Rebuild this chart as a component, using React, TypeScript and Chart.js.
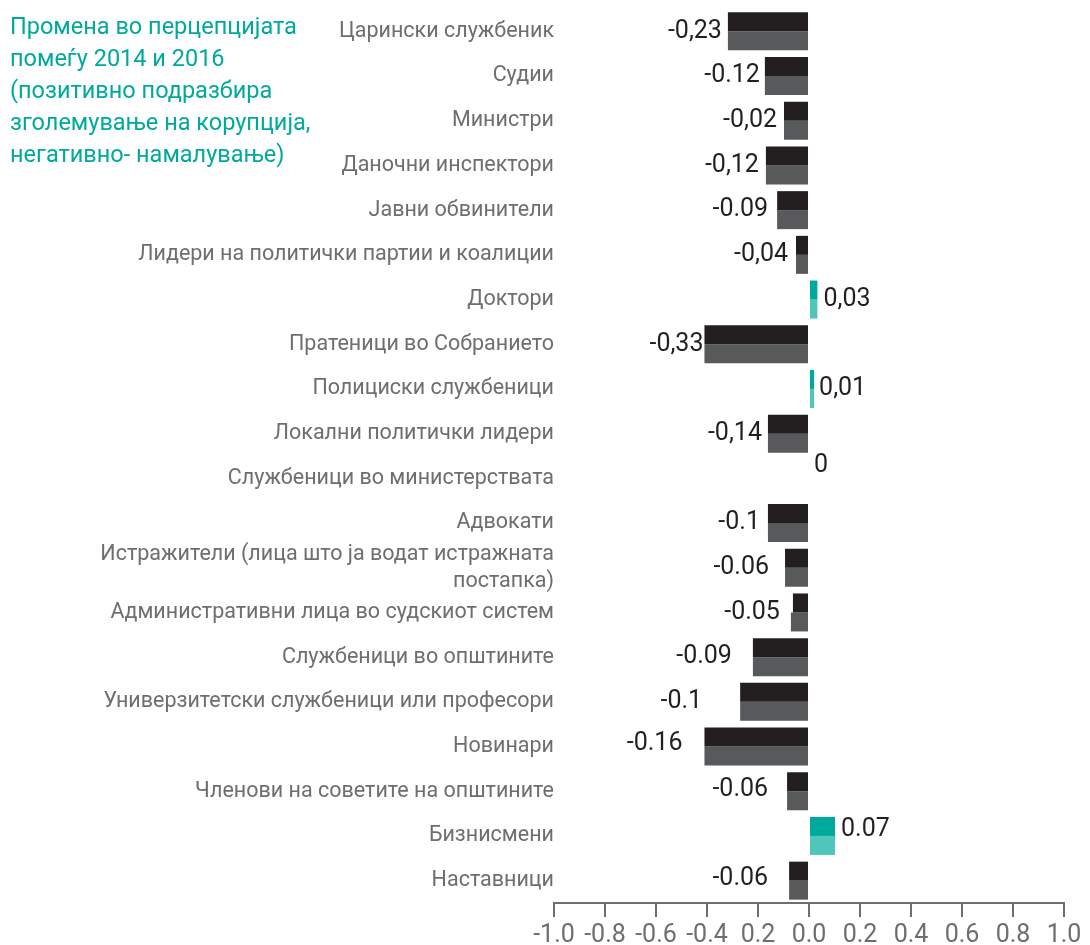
import React, { useEffect, useRef } from "react";
import { Chart, registerables } from "chart.js";

Chart.register(...registerables);

const categories: (string | string[])[] = [
  "Царински службеник",
  "Судии",
  "Министри",
  "Даночни инспектори",
  "Јавни обвинители",
  "Лидери на политички партии и коалиции",
  "Доктори",
  "Пратеници во Собранието",
  "Полициски службеници",
  "Локални политички лидери",
  "Службеници во министерствата",
  "Адвокати",
  ["Истражители (лица што ја водат истражната", "постапка)"],
  "Административни лица во судскиот систем",
  "Службеници во општините",
  "Универзитетски службеници или професори",
  "Новинари",
  "Членови на советите на општините",
  "Бизнисмени",
  "Наставници",
];

// bar lengths as drawn (upper half / lower half of each bar)
const upperValues = [
  -0.318, -0.173, -0.098, -0.169, -0.125, -0.051, 0.033, -0.41, 0.02, -0.161,
  0, -0.161, -0.094, -0.063, -0.22, -0.27, -0.41, -0.086, 0.102, -0.078,
];
const lowerValues = [
  -0.318, -0.173, -0.098, -0.169, -0.125, -0.051, 0.033, -0.41, 0.02, -0.161,
  0, -0.161, -0.094, -0.071, -0.22, -0.27, -0.41, -0.086, 0.102, -0.078,
];

// printed value labels
const valueLabels = [
  "-0,23", "-0.12", "-0,02", "-0,12", "-0.09", "-0,04", "0,03", "-0,33", "0,01", "-0,14",
  "0", "-0.1", "-0.06", "-0.05", "-0.09", "-0.1", "-0.16", "-0.06", "0.07", "-0.06",
];

const tickLabels = ["-1.0", "-0.8", "-0.6", "-0.4", "0.2", "0.0", "0.2", "0.4", "0.6", "0.8", "1.0"];

const titleLines = [
  "Промена во перцепцијата",
  "помеѓу 2014 и 2016",
  "(позитивно подразбира",
  "зголемување на корупција,",
  "негативно- намалување)",
];

// label styling (gap from bar end, vertical shift)
const labelGap = [6, 5, 7, 7, 9, 8, 6, 1, 5, 6, 5, 8, 16, 11, 21, 38, 22, 19, 6, 21];
const labelShift = [0, 0, 0, 0, 0, 0, 0, 0, 0, 0, -13, 0, 0, 0, 0, 0, -3, -2, -6, -2];

const DARK = "#231f20";
const GREY = "#58595b";
const TEAL = "#00a99d";
const TEAL_LIGHT = "#4fc5bc";
const TEXT_GREY = "#6d6e71";

export default function App() {
  const ref = useRef<HTMLCanvasElement | null>(null);

  useEffect(() => {
    if (!ref.current) return;

    const labelPlugin = {
      id: "valueLabels",
      afterDatasetsDraw(chart: any) {
        const ctx = chart.ctx;
        const m0 = chart.getDatasetMeta(0);
        const m1 = chart.getDatasetMeta(1);
        const zero = chart.scales.x.getPixelForValue(0);
        ctx.save();
        ctx.font = "25px Roboto";
        ctx.fillStyle = DARK;
        ctx.textBaseline = "middle";
        valueLabels.forEach((txt, i) => {
          const a = m0.data[i];
          const b = m1.data[i];
          const y = (a.y + b.y) / 2 + labelShift[i];
          const v = Math.min(upperValues[i], lowerValues[i]);
          if (v < 0) {
            const left = Math.min(a.x, b.x);
            ctx.textAlign = "right";
            ctx.fillText(txt, left - labelGap[i], y);
          } else {
            const right = Math.max(a.x, b.x, zero);
            ctx.textAlign = "left";
            ctx.fillText(txt, right + labelGap[i], y);
          }
        });
        ctx.restore();
      },
    };

    const titlePlugin = {
      id: "sideTitle",
      afterDraw(chart: any) {
        const ctx = chart.ctx;
        ctx.save();
        ctx.font = "23.5px Roboto";
        ctx.fillStyle = TEAL;
        ctx.textAlign = "left";
        ctx.textBaseline = "middle";
        titleLines.forEach((t, i) => ctx.fillText(t, 10, 28 + i * 32));
        ctx.restore();
      },
    };

    const chart = new Chart(ref.current, {
      type: "bar",
      data: {
        labels: categories,
        datasets: [
          {
            label: "upper",
            data: upperValues,
            backgroundColor: upperValues.map((v) => (v >= 0 ? TEAL : DARK)),
            categoryPercentage: 0.85,
            barPercentage: 1,
            borderWidth: 0,
          },
          {
            label: "lower",
            data: lowerValues,
            backgroundColor: lowerValues.map((v) => (v >= 0 ? TEAL_LIGHT : GREY)),
            categoryPercentage: 0.85,
            barPercentage: 1,
            borderWidth: 0,
          },
        ],
      },
      options: {
        indexAxis: "y",
        responsive: false,
        animation: false,
        devicePixelRatio: 1,
        layout: { padding: { top: 9, right: 26, left: 0, bottom: 0 } },
        plugins: {
          legend: { display: false },
          tooltip: { enabled: false },
          title: { display: false },
        },
        scales: {
          x: {
            min: -1,
            max: 1,
            afterFit(scale: any) {
              scale.height = 42;
            },
            afterBuildTicks(scale: any) {
              scale.ticks = tickLabels.map((_, i) => ({ value: -1 + i * 0.2 }));
            },
            ticks: {
              color: TEXT_GREY,
              font: { family: "Roboto", size: 25 },
              padding: 4,
              maxRotation: 0,
              autoSkip: false,
              callback: (_v: any, i: number) => tickLabels[i],
            },
            grid: {
              drawOnChartArea: false,
              drawTicks: true,
              tickLength: 14,
              color: TEXT_GREY,
              lineWidth: 2,
            },
            border: { display: true, color: TEXT_GREY, width: 2 },
          },
          y: {
            afterFit(scale: any) {
              scale.width = 554;
              scale.paddingTop = 0;
              scale.paddingBottom = 0;
            },
            ticks: {
              color: TEXT_GREY,
              font: { family: "Roboto", size: 21.5, lineHeight: 1.25 },
              padding: 0,
              autoSkip: false,
            },
            grid: { display: false, drawTicks: false },
            border: { display: false },
          },
        },
      },
      plugins: [labelPlugin, titlePlugin],
    } as any);

    return () => chart.destroy();
  }, []);

  return (
    <div style={{ position: "fixed", left: 0, top: 0, width: 1090, height: 945, background: "#fff" }}>
      <canvas ref={ref} width={1090} height={945} style={{ width: 1090, height: 945, display: "block" }} />
    </div>
  );
}
